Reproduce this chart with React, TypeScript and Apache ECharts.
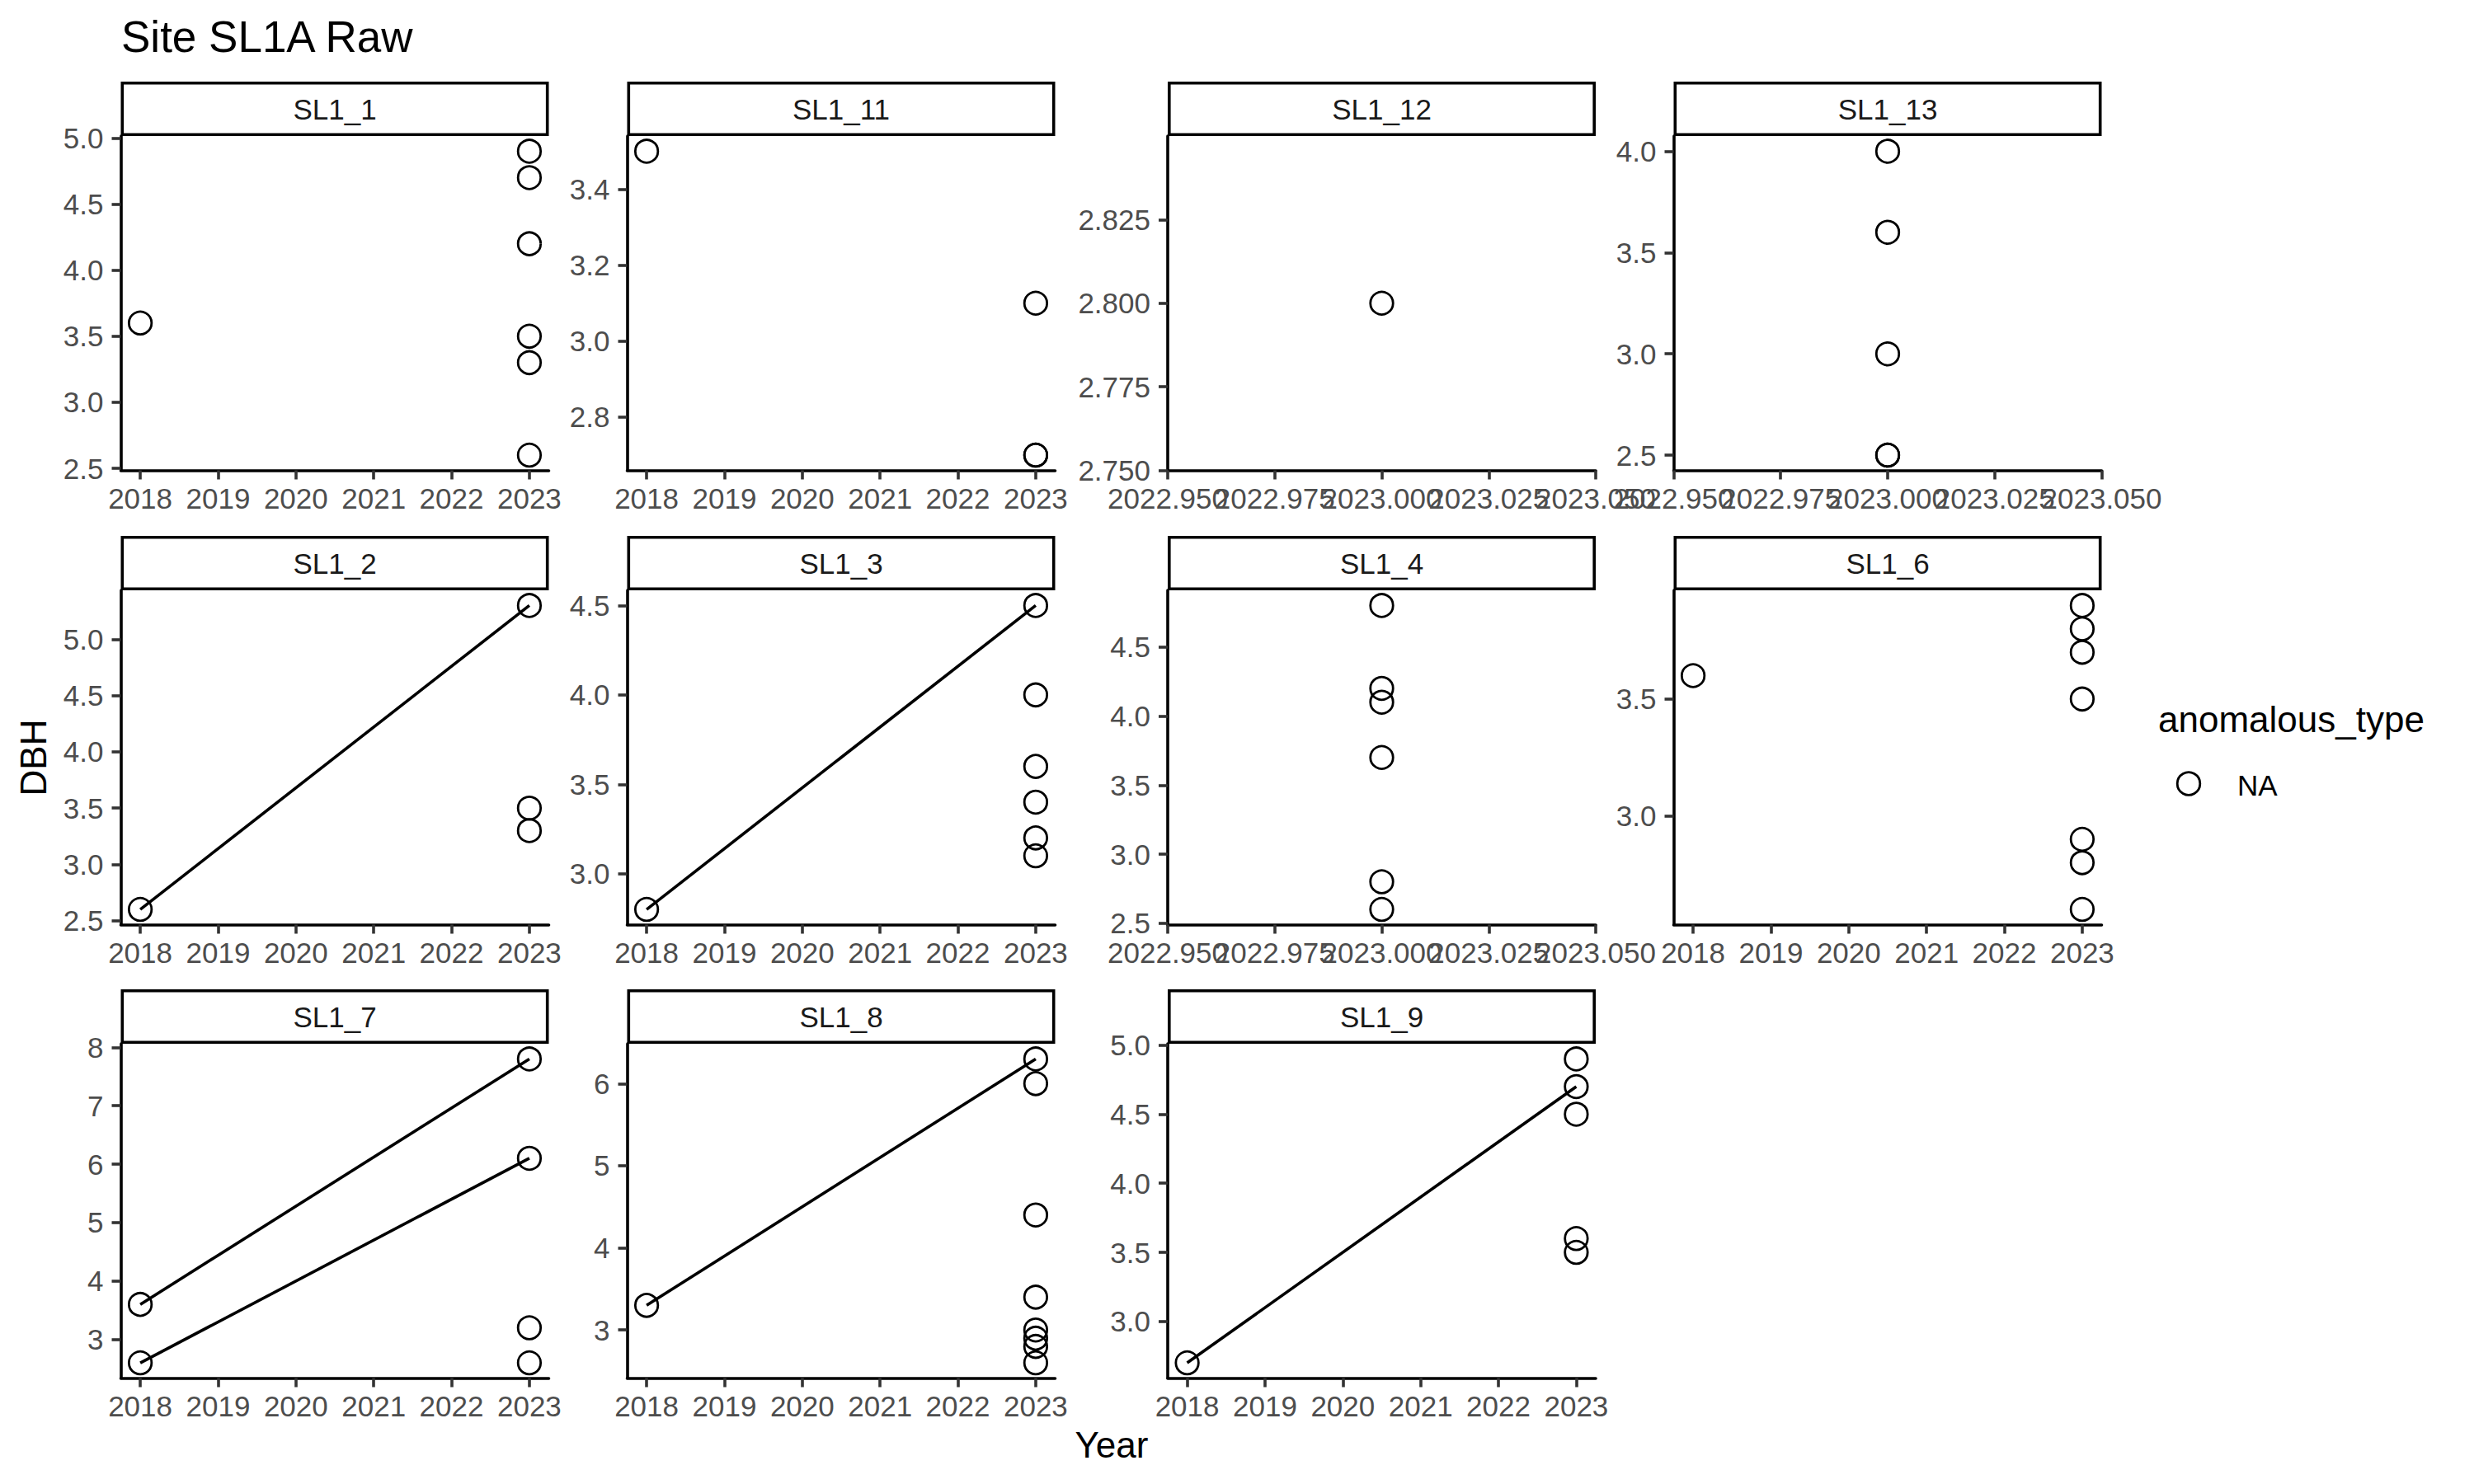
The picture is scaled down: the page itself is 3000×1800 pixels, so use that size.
import React, { useEffect, useRef } from "react";
import * as echarts from "echarts";

// ---- data (Year, DBH) per facet ----
const facetNames = ["SL1_1", "SL1_11", "SL1_12", "SL1_13", "SL1_2", "SL1_3", "SL1_4", "SL1_6", "SL1_7", "SL1_8", "SL1_9"];

const obs_SL1_1 = [[2018, 3.6], [2023, 4.9], [2023, 4.7], [2023, 4.2], [2023, 3.5], [2023, 3.3], [2023, 2.6]];
const obs_SL1_11 = [[2018, 3.5], [2023, 3.1], [2023, 2.7], [2023, 2.7]];
const obs_SL1_12 = [[2023, 2.8]];
const obs_SL1_13 = [[2023, 4.0], [2023, 3.6], [2023, 3.0], [2023, 2.5], [2023, 2.5]];
const obs_SL1_2 = [[2018, 2.6], [2023, 5.3], [2023, 3.5], [2023, 3.3]];
const obs_SL1_3 = [[2018, 2.8], [2023, 4.5], [2023, 4.0], [2023, 3.6], [2023, 3.4], [2023, 3.2], [2023, 3.1]];
const obs_SL1_4 = [[2023, 4.8], [2023, 4.2], [2023, 4.1], [2023, 3.7], [2023, 2.8], [2023, 2.6]];
const obs_SL1_6 = [[2018, 3.6], [2023, 3.9], [2023, 3.8], [2023, 3.7], [2023, 3.5], [2023, 2.9], [2023, 2.8], [2023, 2.6]];
const obs_SL1_7 = [[2018, 3.6], [2018, 2.6], [2023, 7.8], [2023, 6.1], [2023, 3.2], [2023, 2.6]];
const obs_SL1_8 = [[2018, 3.3], [2023, 6.3], [2023, 6.0], [2023, 4.4], [2023, 3.4], [2023, 3.0], [2023, 2.9], [2023, 2.8], [2023, 2.6]];
const obs_SL1_9 = [[2018, 2.7], [2023, 4.9], [2023, 4.7], [2023, 4.5], [2023, 3.6], [2023, 3.5]];

// trees measured in both years (geom_line groups)
const trees_SL1_2 = [[[2018, 2.6], [2023, 5.3]]];
const trees_SL1_3 = [[[2018, 2.8], [2023, 4.5]]];
const trees_SL1_7 = [[[2018, 3.6], [2023, 7.8]], [[2018, 2.6], [2023, 6.1]]];
const trees_SL1_8 = [[[2018, 3.3], [2023, 6.3]]];
const trees_SL1_9 = [[[2018, 2.7], [2023, 4.7]]];

// tick labels
const yearTicks = [2018, 2019, 2020, 2021, 2022, 2023];
const singleYearTicks = [2022.95, 2022.975, 2023.0, 2023.025, 2023.05];
const yTicks_SL1_1 = [2.5, 3.0, 3.5, 4.0, 4.5, 5.0];
const yTicks_SL1_11 = [2.8, 3.0, 3.2, 3.4];
const yTicks_SL1_12 = [2.75, 2.775, 2.8, 2.825];
const yTicks_SL1_13 = [2.5, 3.0, 3.5, 4.0];
const yTicks_SL1_2 = [2.5, 3.0, 3.5, 4.0, 4.5, 5.0];
const yTicks_SL1_3 = [3.0, 3.5, 4.0, 4.5];
const yTicks_SL1_4 = [2.5, 3.0, 3.5, 4.0, 4.5];
const yTicks_SL1_6 = [3.0, 3.5];
const yTicks_SL1_7 = [3, 4, 5, 6, 7, 8];
const yTicks_SL1_8 = [3, 4, 5, 6];
const yTicks_SL1_9 = [3.0, 3.5, 4.0, 4.5, 5.0];

const legendTitle = "anomalous_type";
const legendLabels = ["NA"];
const plotTitle = "Site SL1A Raw";
const xTitle = "Year";
const yTitle = "DBH";

const facetObs = [obs_SL1_1, obs_SL1_11, obs_SL1_12, obs_SL1_13, obs_SL1_2, obs_SL1_3, obs_SL1_4, obs_SL1_6, obs_SL1_7, obs_SL1_8, obs_SL1_9];
const facetTrees = [[], [], [], [], trees_SL1_2, trees_SL1_3, [], [], trees_SL1_7, trees_SL1_8, trees_SL1_9];
const facetYTicks = [yTicks_SL1_1, yTicks_SL1_11, yTicks_SL1_12, yTicks_SL1_13, yTicks_SL1_2, yTicks_SL1_3, yTicks_SL1_4, yTicks_SL1_6, yTicks_SL1_7, yTicks_SL1_8, yTicks_SL1_9];

// ---- layout ----
const FONT = "'Liberation Sans', Arial, Helvetica, sans-serif";
const colLefts = [146.5, 760.5, 1416, 2029.5];
const rowTops = [165, 716, 1266];
const panelW = 519;
const panelH = 405.5;
const stripH = 66;
const LW = 3.6;

function rangeOf(vals: number[]): [number, number] {
  const lo = Math.min(...vals);
  const hi = Math.max(...vals);
  if (hi - lo < 1e-9) return [lo - 0.05, hi + 0.05];
  const d = (hi - lo) * 0.05;
  return [lo - d, hi + d];
}
function decimalsOf(ticks: number[]): number {
  let d = 0;
  for (const t of ticks) {
    for (let k = 0; k < 6; k++) {
      if (Math.abs(Math.round(t * Math.pow(10, k)) - t * Math.pow(10, k)) < 1e-6) {
        d = Math.max(d, k);
        break;
      }
    }
  }
  return d;
}
const r6 = (v: number) => Math.round(v * 1e6) / 1e6;

function buildOption() {
  const grid: any[] = [];
  const xAxis: any[] = [];
  const yAxis: any[] = [];
  const series: any[] = [];
  const graphic: any[] = [];

  const labelStyle = {
    color: "#4D4D4D",
    fontSize: 35,
    fontFamily: FONT,
    hideOverlap: false,
    showMinLabel: true,
    showMaxLabel: true,
  };

  facetNames.forEach((name, i) => {
    const col = i % 4;
    const row = Math.floor(i / 4);
    const left = colLefts[col];
    const top = rowTops[row];
    grid.push({ left, top, width: panelW, height: panelH, containLabel: false });

    const obs = facetObs[i];
    const xr = rangeOf(obs.map((p) => p[0]));
    const yr = rangeOf(obs.map((p) => p[1]));
    const single = xr[1] - xr[0] < 1;
    const xt = single ? singleYearTicks : yearTicks;
    const yt = facetYTicks[i];
    const xd = decimalsOf(xt);
    const yd = decimalsOf(yt);

    const common = {
      type: "value",
      gridIndex: i,
      splitLine: { show: false },
      axisLine: { show: true, onZero: false, lineStyle: { color: "#000000", width: LW } },
      axisTick: { show: true, length: 11, lineStyle: { color: "#333333", width: LW } },
    };
    // main x axis: line, all ticks, and (for dense single-year breaks) every other label
    const mainLabels = single ? xt.filter((_, k) => k % 2 === 0) : xt;
    const xIndex = xAxis.length;
    xAxis.push({
      ...common,
      min: r6(xr[0]),
      max: r6(xr[1]),
      axisTick: { ...common.axisTick, customValues: xt },
      axisLabel: { ...labelStyle, customValues: mainLabels, margin: 16, formatter: (v: number) => v.toFixed(xd) },
    });
    if (single) {
      // second label layer so that overlapping labels are all kept, as in the reference
      xAxis.push({
        type: "value",
        gridIndex: i,
        min: r6(xr[0]),
        max: r6(xr[1]),
        position: "bottom",
        splitLine: { show: false },
        axisLine: { show: false, onZero: false },
        axisTick: { show: false },
        axisLabel: {
          ...labelStyle,
          customValues: xt.filter((_, k) => k % 2 === 1),
          margin: 16,
          formatter: (v: number) => v.toFixed(xd),
        },
      });
    }
    yAxis.push({
      ...common,
      min: r6(yr[0]),
      max: r6(yr[1]),
      axisTick: { ...common.axisTick, customValues: yt },
      axisLabel: { ...labelStyle, customValues: yt, margin: 21, formatter: (v: number) => v.toFixed(yd) },
    });

    facetTrees[i].forEach((seg: any) => {
      series.push({
        type: "line",
        xAxisIndex: xIndex,
        yAxisIndex: i,
        data: seg,
        symbol: "none",
        lineStyle: { color: "#000000", width: LW },
        silent: true,
        z: 3,
      });
    });
    series.push({
      type: "scatter",
      name: legendLabels[0],
      xAxisIndex: xIndex,
      yAxisIndex: i,
      data: obs,
      symbol: "circle",
      symbolSize: 27.5,
      itemStyle: { color: "rgba(0,0,0,0)", borderColor: "#000000", borderWidth: 2.8, opacity: 1 },
      silent: true,
      z: 2,
    });

    // strip
    graphic.push({
      type: "rect",
      shape: { x: left + LW / 2, y: top - stripH + LW / 2, width: panelW - LW, height: stripH - LW },
      style: { fill: "#FFFFFF", stroke: "#000000", lineWidth: LW },
      z: 10,
    });
    graphic.push({
      type: "text",
      x: left + panelW / 2,
      y: top - stripH / 2,
      style: {
        text: name,
        fill: "#1A1A1A",
        fontSize: 35,
        fontFamily: FONT,
        textAlign: "center",
        textVerticalAlign: "middle",
      },
      z: 11,
    });
  });

  // titles
  graphic.push({
    type: "text",
    x: 147,
    y: 44,
    style: { text: plotTitle, fill: "#000000", fontSize: 53, fontFamily: FONT, textAlign: "left", textVerticalAlign: "middle" },
  });
  graphic.push({
    type: "text",
    x: 1348,
    y: 1752,
    style: { text: xTitle, fill: "#000000", fontSize: 44, fontFamily: FONT, textAlign: "center", textVerticalAlign: "middle" },
  });
  graphic.push({
    type: "text",
    x: 40,
    y: 919,
    rotation: Math.PI / 2,
    style: { text: yTitle, fill: "#000000", fontSize: 44, fontFamily: FONT, textAlign: "center", textVerticalAlign: "middle" },
  });
  // legend
  graphic.push({
    type: "text",
    x: 2617,
    y: 872,
    style: { text: legendTitle, fill: "#000000", fontSize: 44, fontFamily: FONT, textAlign: "left", textVerticalAlign: "middle" },
  });
  graphic.push({
    type: "circle",
    shape: { cx: 2654, cy: 950.5, r: 13.8 },
    style: { fill: "rgba(0,0,0,0)", stroke: "#000000", lineWidth: 2.8 },
  });
  graphic.push({
    type: "text",
    x: 2713,
    y: 952,
    style: { text: legendLabels[0], fill: "#000000", fontSize: 35, fontFamily: FONT, textAlign: "left", textVerticalAlign: "middle" },
  });

  return {
    animation: false,
    backgroundColor: "#FFFFFF",
    grid,
    xAxis,
    yAxis,
    series,
    graphic,
  };
}

export default function App() {
  const ref = useRef<HTMLDivElement | null>(null);
  useEffect(() => {
    if (!ref.current) return;
    const chart = echarts.init(ref.current, null, { renderer: "svg", width: 3000, height: 1800 });
    chart.setOption(buildOption() as any);
    return () => chart.dispose();
  }, []);
  return (
    <div
      ref={ref}
      style={{ position: "fixed", left: 0, top: 0, width: 3000, height: 1800, background: "#FFFFFF" }}
    />
  );
}
